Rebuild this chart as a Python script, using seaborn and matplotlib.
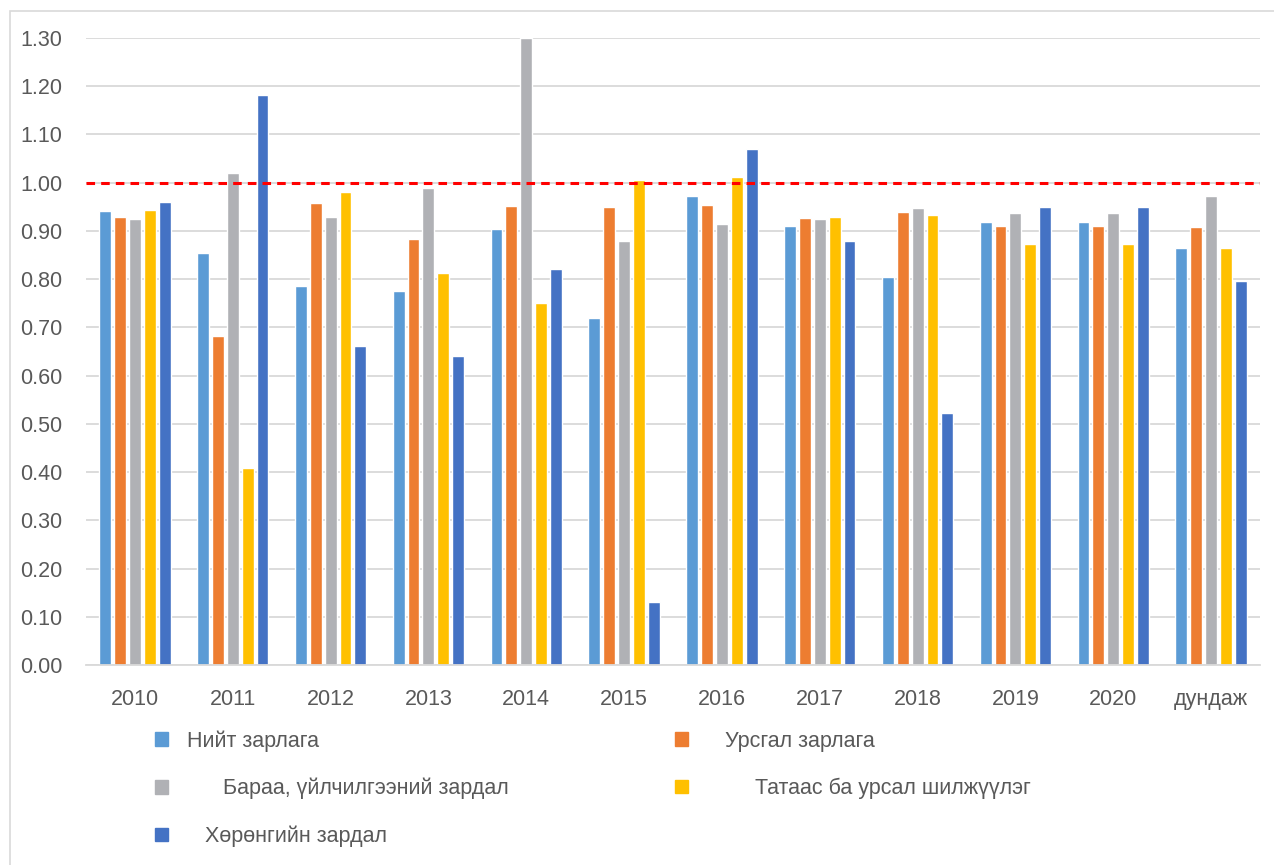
import pandas as pd
import matplotlib.pyplot as plt
import matplotlib.patches as mpatches
import seaborn as sns

years = ['2010', '2011', '2012', '2013', '2014', '2015', '2016', '2017', '2018', '2019', '2020', 'дундаж']

niit = [0.941, 0.854, 0.786, 0.775, 0.904, 0.719, 0.972, 0.910, 0.804, 0.918, 0.918, 0.864]
ursgal = [0.929, 0.683, 0.958, 0.883, 0.952, 0.950, 0.954, 0.927, 0.939, 0.910, 0.910, 0.908]
baraa = [0.925, 1.020, 0.929, 0.989, 1.300, 0.879, 0.914, 0.925, 0.947, 0.937, 0.937, 0.972]
tataas = [0.943, 0.408, 0.981, 0.813, 0.751, 1.006, 1.012, 0.929, 0.933, 0.873, 0.873, 0.865]
khurungu = [0.961, 1.182, 0.662, 0.641, 0.821, 0.130, 1.070, 0.879, 0.522, 0.949, 0.949, 0.797]

series_names = ['Нийт зарлага', 'Урсгал зарлага', 'Бараа, үйлчилгээний зардал',
                'Татаас ба урсал шилжүүлэг', 'Хөрөнгийн зардал']
# legend labels keep the odd leading spaces of the original
legend_labels = ['Нийт зарлага', '   Урсгал зарлага', '      Бараа, үйлчилгээний зардал',
                 '        Татаас ба урсал шилжүүлэг', '   Хөрөнгийн зардал']
colors = ['#5B9BD5', '#ED7D31', '#B0B1B5', '#FFC000', '#4472C4']
threshold = 1.0

sns.set_theme(style='white')
plt.rcParams['font.family'] = ['Liberation Sans', 'DejaVu Sans']

rows = []
for name, vals in zip(series_names, [niit, ursgal, baraa, tataas, khurungu]):
    for yr, v in zip(years, vals):
        rows.append({'year': yr, 'series': name, 'value': v})
df = pd.DataFrame(rows)

fig = plt.figure(figsize=(12.74, 8.65), dpi=100)
ax = fig.add_axes([86 / 1274, 1 - 665 / 865, (1260 - 86) / 1274, (665 - 38) / 865])

sns.barplot(data=df, x='year', y='value', hue='series', hue_order=series_names,
            palette=colors, saturation=1, width=0.76, gap=0.2, ax=ax, legend=False)

ax.set_ylim(0, 1.3)
ax.set_yticks([i / 10 for i in range(14)])
ax.set_yticklabels([f'{i / 10:.2f}' for i in range(14)])
ax.set_xlim(-0.5, len(years) - 0.5)
ax.yaxis.grid(True, color='#D9D9D9', linewidth=1.3)
ax.set_axisbelow(True)
for side in ['left', 'right', 'top']:
    ax.spines[side].set_visible(False)
ax.spines['bottom'].set_color('#D9D9D9')
ax.spines['bottom'].set_linewidth(1.3)
ax.tick_params(axis='x', length=0, pad=17, labelsize=15.5, labelcolor='#595959')
ax.tick_params(axis='y', length=0, pad=17, labelsize=15.5, labelcolor='#595959')
ax.set_xlabel('')
ax.set_ylabel('')

ax.axhline(threshold, color='#FF0000', linewidth=2.2, dashes=(2.8, 2), zorder=3)

# legend is filled row by row in the original, matplotlib fills columns
order = [0, 2, 4, 1, 3]
handles = [mpatches.Patch(color=colors[i]) for i in order]
labels = [legend_labels[i] for i in order]
fig.legend(handles, labels, ncol=2, loc='upper left',
           bbox_to_anchor=(155 / 1274, 1 - 730 / 865), frameon=False,
           fontsize=15.5, labelcolor='#595959', handlelength=0.6, handleheight=0.6,
           handletextpad=0.9, columnspacing=7.7, labelspacing=1.22,
           borderpad=0, borderaxespad=0)

# light chart-area border
fig.patches.append(mpatches.Rectangle((10 / 1274, -0.01), 1.02, 1 - 11 / 865 + 0.01,
                                      transform=fig.transFigure, fill=False,
                                      edgecolor='#D9D9D9', linewidth=1.2))

fig.savefig('out.png', dpi=100)
